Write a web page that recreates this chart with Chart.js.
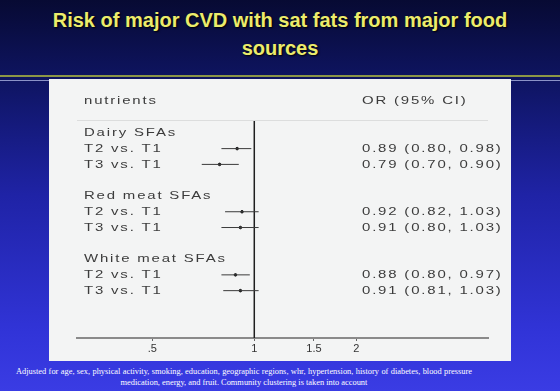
<!DOCTYPE html>
<html>
<head>
<meta charset="utf-8">
<script src="https://cdn.jsdelivr.net/npm/chart.js@4.4.0/dist/chart.umd.min.js"></script>
<style>
  html, body { margin:0; padding:0; width:560px; height:391px; overflow:hidden; }
  body {
    position:relative;
    font-family:"Liberation Sans", Arial, sans-serif;
    background:linear-gradient(to bottom, #070a33 0%, #0f1565 22%, #1f23a6 50%, #3134d8 85%, #3a3ce4 100%);
  }
  #title {
    position:absolute; left:0; top:6px; width:560px;
    text-align:center; color:#ecec6c; font-weight:bold;
    font-size:20px; line-height:28px;
    text-shadow:1px 1px 2px #000;
  }
  #rule { position:absolute; left:0; top:75px; width:560px; height:2px; background:#8c9646; }
  #rule2 { position:absolute; left:0; top:80px; width:560px; height:1px; background:#8b93c8; }
  #panel { position:absolute; left:49px; top:79px; width:462px; height:282px; background:#f3f4f4; }
  #note {
    position:absolute; left:16px; top:366px; width:456px;
    color:#fff; font-family:"Liberation Serif", "Times New Roman", serif;
    font-size:8.4px; line-height:11px;
    text-align:justify; text-align-last:center;
  }
</style>
</head>
<body>
<div id="title">Risk of major CVD with sat fats from major food<br>sources</div>
<div id="rule"></div>
<div id="rule2"></div>
<div id="panel"><canvas id="forest" width="462" height="282"></canvas></div>
<div id="note">Adjusted for age, sex, physical activity, smoking, education, geographic regions, whr, hypertension, history of diabetes, blood pressure medication, energy, and fruit. Community clustering is taken into account</div>

<script>
// data
var groups = ['Dairy SFAs', 'Red meat SFAs', 'White meat SFAs'];
var comparisons = ['T2 vs. T1', 'T3 vs. T1'];
var oddsRatio = [0.89, 0.79, 0.92, 0.91, 0.88, 0.91];
var lowerCI   = [0.80, 0.70, 0.82, 0.80, 0.80, 0.81];
var upperCI   = [0.98, 0.90, 1.03, 1.03, 0.97, 1.03];
var xTicks = [0.5, 1, 1.5, 2];
var xTickLabels = ['.5', '1', '1.5', '2'];

// row layout: group heading, then its comparisons, then one empty row
var rowLabels = [];   // {y, text}
var estRows = [];     // y index of each estimate
groups.forEach(function(g, gi){
  var base = gi * (comparisons.length + 2);
  rowLabels.push({ y: base, text: g });
  comparisons.forEach(function(c, ci){
    rowLabels.push({ y: base + 1 + ci, text: c });
    estRows.push(base + 1 + ci);
  });
});

var yMin = -0.75, yMax = 13;

var datasets = [];
// confidence interval whiskers
oddsRatio.forEach(function(v, i){
  datasets.push({
    type: 'line',
    data: [{ x: lowerCI[i], y: estRows[i] }, { x: upperCI[i], y: estRows[i] }],
    borderColor: '#3a3a3a', borderWidth: 1, pointRadius: 0, clip: false
  });
});
// point estimates
datasets.push({
  type: 'scatter',
  data: oddsRatio.map(function(v, i){ return { x: v, y: estRows[i] }; }),
  backgroundColor: '#1a1a1a', borderColor: '#1a1a1a', pointRadius: 1.3
});
// line of no effect
datasets.push({
  type: 'line',
  data: [{ x: 1, y: yMin }, { x: 1, y: yMax }],
  borderColor: '#1e1e1e', borderWidth: 1.5, pointRadius: 0, clip: false
});

// the slide text is stretched sideways, so draw it with a horizontal scale
function wideText(ctx, s, x, y){
  ctx.save();
  ctx.translate(x, y);
  ctx.scale(1.3, 1);
  ctx.fillText(s, 0, 0);
  ctx.restore();
}

var textCols = {
  id: 'textCols',
  afterDatasetsDraw: function(chart){
    var ctx = chart.ctx, ys = chart.scales.y, area = chart.chartArea;
    var leftX = area.left + 7, orX = 313;
    ctx.save();
    // header separator
    ctx.strokeStyle = '#dcdddd';
    ctx.lineWidth = 1;
    ctx.beginPath();
    ctx.moveTo(area.left, area.top - 0.5);
    ctx.lineTo(area.right, area.top - 0.5);
    ctx.stroke();

    ctx.fillStyle = '#3c3c3c';
    ctx.font = '11.5px "Liberation Sans", Arial, sans-serif';
    ctx.letterSpacing = '1.4px';
    ctx.textBaseline = 'middle';
    ctx.textAlign = 'left';
    wideText(ctx, 'nutrients', leftX, ys.getPixelForValue(-2));
    wideText(ctx, 'OR (95% CI)', orX, ys.getPixelForValue(-2));
    rowLabels.forEach(function(r){
      wideText(ctx, r.text, leftX, ys.getPixelForValue(r.y));
    });
    oddsRatio.forEach(function(v, i){
      var s = v.toFixed(2) + ' (' + lowerCI[i].toFixed(2) + ', ' + upperCI[i].toFixed(2) + ')';
      wideText(ctx, s, orX, ys.getPixelForValue(estRows[i]));
    });
    ctx.restore();
  }
};

new Chart(document.getElementById('forest'), {
  type: 'scatter',
  data: { datasets: datasets },
  plugins: [textCols],
  options: {
    responsive: false,
    animation: false,
    layout: { padding: { left: 28, right: 23, top: 42, bottom: 0 } },
    plugins: { legend: { display: false }, tooltip: { enabled: false } },
    scales: {
      x: {
        type: 'logarithmic',
        min: 0.308, max: 4.89,
        afterBuildTicks: function(s){ s.ticks = xTicks.map(function(v){ return { value: v }; }); },
        afterFit: function(s){ s.height = 23; },
        ticks: {
          color: '#333', padding: 1,
          font: { family: '"Liberation Sans", Arial, sans-serif', size: 11 },
          callback: function(v, i){ return xTickLabels[i]; }
        },
        grid: { drawOnChartArea: false, tickLength: 3, color: '#666' },
        border: { color: '#8a8a8a', width: 2 }
      },
      y: { type: 'linear', min: yMin, max: yMax, reverse: true, display: false }
    }
  }
});
</script>
</body>
</html>
